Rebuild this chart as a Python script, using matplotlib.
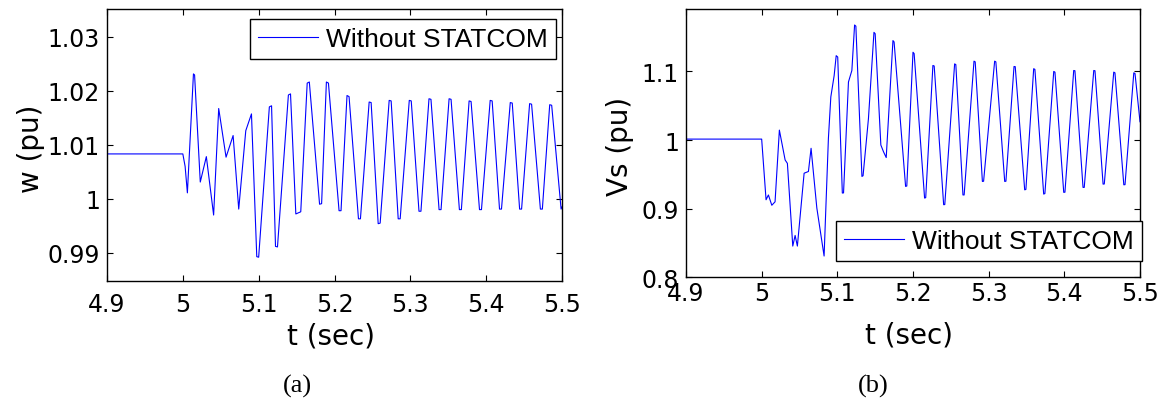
import matplotlib
matplotlib.use("Agg")
from matplotlib import pyplot as plt

# rotor speed w (pu); one row per swing, peaks and troughs as short flat tops
t_w = [4.9, 5.0, 5.003, 5.006, 5.0140, 5.0155, 5.023, 5.031, 5.0406, 5.0473, 5.057, 5.0663, 5.0737,
       5.083, 5.0905, 5.0975, 5.1000,
       5.1141, 5.1170, 5.1222, 5.1248,
       5.1392, 5.1420, 5.1490, 5.1555,
       5.1640, 5.1668, 5.1803, 5.1830,
       5.1893, 5.1920, 5.2060, 5.2086,
       5.2165, 5.2192, 5.2316, 5.2342,
       5.2457, 5.2483, 5.2576, 5.2602,
       5.2721, 5.2747, 5.2840, 5.2866,
       5.2986, 5.3012, 5.3114, 5.3140,
       5.3246, 5.3272, 5.3379, 5.3405,
       5.3511, 5.3537, 5.3647, 5.3673,
       5.3775, 5.3801, 5.3912, 5.3938,
       5.4053, 5.4079, 5.4176, 5.4202,
       5.4318, 5.4344, 5.4441, 5.4467,
       5.4573, 5.4599, 5.4715, 5.4741,
       5.4838, 5.4864, 5.4988, 5.5]
w = [1.0083, 1.0083, 1.0060, 1.0011, 1.0231, 1.0229, 1.0031, 1.0078, 0.9970, 1.0167, 1.0077, 1.0117, 0.9981,
     1.0126, 1.0157, 0.9893, 0.9892,
     1.0170, 1.0172, 0.9912, 0.9911,
     1.0192, 1.0194, 0.9972, 0.9976,
     1.0214, 1.0216, 0.9990, 0.9991,
     1.0216, 1.0214, 0.9978, 0.9978,
     1.0191, 1.0189, 0.9963, 0.9963,
     1.0179, 1.0178, 0.9954, 0.9955,
     1.0182, 1.0181, 0.9963, 0.9963,
     1.0182, 1.0181, 0.9977, 0.9977,
     1.0185, 1.0184, 0.9980, 0.9980,
     1.0185, 1.0184, 0.9980, 0.9980,
     1.0181, 1.0180, 0.9980, 0.9980,
     1.0182, 1.0181, 0.9981, 0.9981,
     1.0178, 1.0177, 0.9981, 0.9981,
     1.0176, 1.0175, 0.9981, 0.9981,
     1.0174, 1.0173, 0.9981, 0.9985]

# terminal voltage Vs (pu)
t_vs = [4.9, 5.0, 5.0058, 5.0089, 5.0134, 5.0177, 5.0234, 5.0310, 5.0340, 5.0411, 5.0442, 5.0472,
        5.0561, 5.0618, 5.0653, 5.0729, 5.0825, 5.0882, 5.0914, 5.0958,
        5.0985, 5.1005, 5.1066, 5.1082,
        5.1147, 5.1192, 5.1228, 5.1245, 5.1325, 5.1340,
        5.1411, 5.1484, 5.1500, 5.1575, 5.1610, 5.1646,
        5.1735, 5.1750, 5.1902, 5.1918,
        5.2000, 5.2015, 5.2153, 5.2168,
        5.2263, 5.2280, 5.2405, 5.2420,
        5.2550, 5.2566, 5.2660, 5.2676,
        5.2806, 5.2822, 5.2917, 5.2933,
        5.3079, 5.3095, 5.3212, 5.3228,
        5.3335, 5.3351, 5.3476, 5.3492,
        5.3595, 5.3611, 5.3727, 5.3743,
        5.3860, 5.3876, 5.3992, 5.4008,
        5.4124, 5.4140, 5.4247, 5.4263,
        5.4389, 5.4405, 5.4512, 5.4528,
        5.4653, 5.4669, 5.4786, 5.4802,
        5.4918, 5.4934, 5.5]
vs = [1.0014, 1.0014, 0.913, 0.920, 0.905, 0.910, 1.0145, 0.971, 0.966, 0.8455, 0.861, 0.8455,
      0.9517, 0.9542, 0.988, 0.901, 0.831, 1.0025, 1.0629, 1.094,
      1.123, 1.121, 0.9228, 0.923,
      1.0846, 1.1014, 1.1677, 1.166, 0.947, 0.948,
      1.031, 1.157, 1.155, 0.9928, 0.983, 0.9745,
      1.145, 1.143, 0.9325, 0.933,
      1.128, 1.126, 0.9155, 0.916,
      1.1087, 1.108, 0.9058, 0.906,
      1.111, 1.110, 0.920, 0.920,
      1.115, 1.114, 0.9397, 0.940,
      1.115, 1.114, 0.9397, 0.940,
      1.1072, 1.107, 0.9275, 0.928,
      1.104, 1.103, 0.9213, 0.922,
      1.100, 1.099, 0.9238, 0.924,
      1.1014, 1.101, 0.931, 0.931,
      1.1014, 1.101, 0.9358, 0.936,
      1.099, 1.098, 0.9348, 0.935,
      1.098, 1.097, 1.0267]

xticks = [4.9, 5.0, 5.1, 5.2, 5.3, 5.4, 5.5]
xtick_labels = ['4.9', '5', '5.1', '5.2', '5.3', '5.4', '5.5']
w_ticks = [0.99, 1.0, 1.01, 1.02, 1.03]
w_tick_labels = ['0.99', '1', '1.01', '1.02', '1.03']
vs_ticks = [0.8, 0.9, 1.0, 1.1]
vs_tick_labels = ['0.8', '0.9', '1', '1.1']
legend_label = 'Without STATCOM'

fig = plt.figure(figsize=(11.68, 4.02), dpi=100)
ax1 = fig.add_axes([107/1168, 1-282/402, 455/1168, 272/402])
ax2 = fig.add_axes([686/1168, 1-278.3/402, 454/1168, 268.3/402])

def style(ax, yt, ytl, ylim, xpad, ylab, ylab_x):
    ax.set_xlim(4.9, 5.5)
    ax.set_ylim(*ylim)
    ax.set_xticks(xticks)
    ax.set_xticklabels(xtick_labels)
    ax.set_yticks(yt)
    ax.set_yticklabels(ytl)
    ax.tick_params(direction='in', length=4, width=0.8, top=True, right=True,
                   labelsize=17, colors='black')
    ax.tick_params(axis='x', pad=xpad)
    ax.tick_params(axis='y', pad=5)
    for s in ax.spines.values():
        s.set_linewidth(1.0)
    ax.set_ylabel(ylab, fontsize=20)
    ax.yaxis.label.set_va('center')
    ax.yaxis.set_label_coords(ylab_x, 0.49)

ax1.plot(t_w, w, color='#0000ff', lw=0.8, label=legend_label)
style(ax1, w_ticks, w_tick_labels, (0.9848, 1.0351), 8, 'w (pu)', -0.167)
ax1.set_xlabel('t (sec)', fontsize=20)
ax1.xaxis.label.set_va('center')
ax1.xaxis.set_label_coords((331-107)/455, (282-336)/272)

ax2.plot(t_vs, vs, color='#0000ff', lw=0.8, label=legend_label)
style(ax2, vs_ticks, vs_tick_labels, (0.8, 1.191), 3, 'Vs (pu)', -0.145)
ax2.set_xlabel('t (sec)', fontsize=20)
ax2.xaxis.label.set_va('center')
ax2.xaxis.set_label_coords((909-686)/454, (278.3-336)/268.3)

for ax, anchor in [(ax1, ((556-107)/455, (282-20)/272)),
                   (ax2, ((1142-686)/454, (278.3-222)/268.3))]:
    leg = ax.legend(loc='upper right', bbox_to_anchor=anchor, borderaxespad=0,
                    prop={'family': 'Liberation Sans', 'size': 19},
                    fancybox=False, framealpha=1, edgecolor='black',
                    handlelength=2.3, handletextpad=0.3, borderpad=0.3)
    leg.get_frame().set_linewidth(1.0)

fig.text(297.5/1168, 1-386/402, '(a)', ha='center', va='center',
         family='Liberation Serif', fontsize=19)
fig.text(873/1168, 1-386/402, '(b)', ha='center', va='center',
         family='Liberation Serif', fontsize=19)

fig.savefig('out.png', dpi=100)
